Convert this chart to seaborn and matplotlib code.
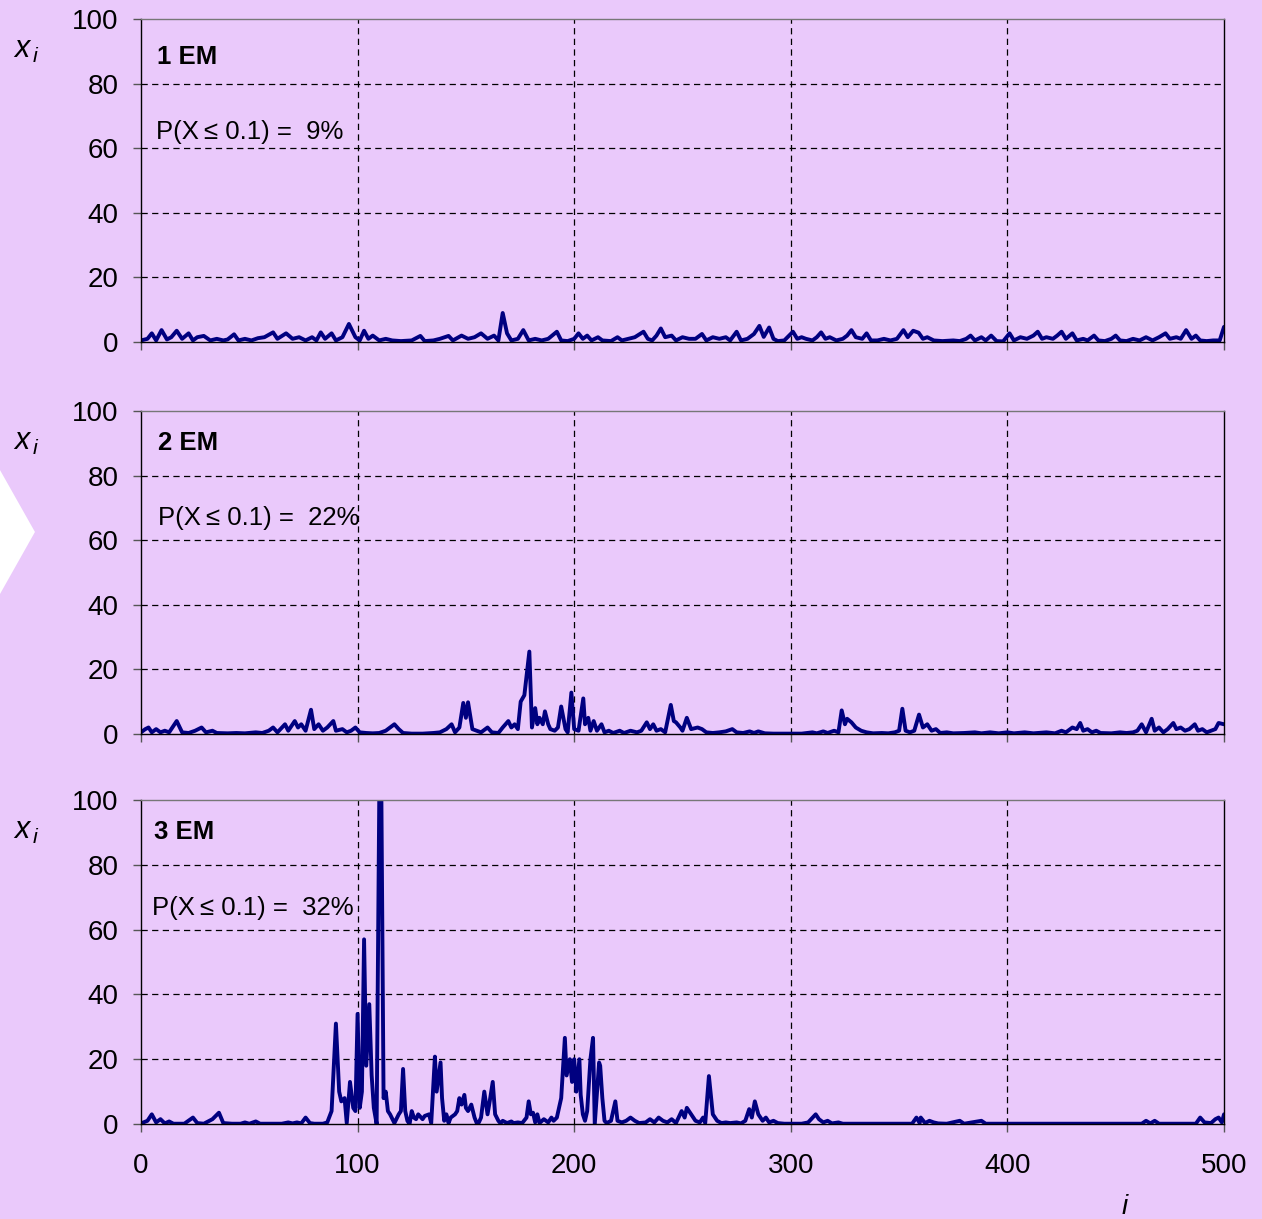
import matplotlib
matplotlib.use("Agg")
import matplotlib.pyplot as plt
import seaborn as sns
import pandas as pd
from matplotlib.patches import Polygon

# ---------------- data ----------------
em1_i = [0, 3, 5, 7, 9.5, 12, 14, 16.5, 19, 22, 24, 26, 29, 32, 35, 38, 40, 43, 45, 48, 51, 54, 57, 61, 63, 67, 70, 73, 76, 79,
         81, 83, 85, 88, 90, 93, 96, 99, 101, 103, 105, 107, 110, 113, 116, 120, 125, 129, 131, 135, 138, 142, 144, 148, 151,
         154, 157, 160, 163, 165, 167, 169, 171, 174, 176.5, 179, 182, 185, 188, 192, 194, 197, 200, 202, 204, 206, 208, 211,
         213, 217, 220, 222, 225, 228, 232, 234, 236, 238, 240, 242, 245, 247, 250, 253, 256, 259, 261, 264, 267, 270, 272,
         275, 277, 280, 283, 285.5, 287.5, 290, 292, 294, 297, 301, 303, 305, 307, 310, 312, 314, 316, 318, 321, 324, 326,
         328, 330, 333, 335, 337, 340, 343, 346, 349, 352, 354, 356.5, 359, 361, 363, 366, 370, 375, 378, 381, 383, 385, 388,
         390, 392.5, 395, 398, 401, 403, 406, 409, 412, 414, 416, 418, 421, 423, 425, 427, 430, 432, 435, 437, 440, 442, 445,
         448, 450, 452, 455, 458, 461, 464, 467, 470, 473, 475, 478, 480, 482.5, 485, 487, 489, 492, 495, 498, 500]
em1_x = [0.5, 1, 2.7, 0.5, 3.7, 0.8, 1.5, 3.5, 1, 2.7, 0.5, 1.5, 1.9, 0.5, 1, 0.5, 0.8, 2.4, 0.5, 1, 0.5, 1.2, 1.5, 3, 1, 2.7, 1, 1.5, 0.5, 1.5,
         0.5, 3, 1, 2.7, 0.5, 1.5, 5.6, 1.5, 0.5, 3.5, 1, 2, 0.5, 1, 0.5, 0.3, 0.5, 1.9, 0.3, 0.5, 1, 1.9, 0.5, 2, 1,
         1.5, 2.7, 1, 2, 0.5, 9, 2.7, 0.5, 1, 3.7, 0.5, 1, 0.5, 1, 3.2, 0.5, 0.3, 1, 2.7, 1, 2, 0.5, 1.5,
         0.5, 0.3, 1.5, 0.5, 1, 1.5, 3.2, 1, 0.5, 2, 4.2, 1.5, 2, 0.5, 1.5, 1, 1, 2.5, 0.5, 1.5, 1, 1.5, 0.5,
         3.2, 0.5, 1, 2.5, 5, 1.6, 4.5, 1, 0.3, 0.5, 3.2, 1, 1.5, 1, 0.5, 1.5, 3, 1, 1.5, 0.5, 1, 2,
         3.7, 1.5, 1, 2.7, 0.5, 0.5, 1, 0.5, 1, 3.7, 1.5, 3.5, 2.9, 1, 1.5, 0.5, 0.3, 0.5, 0.3, 1, 2, 0.5, 1.5,
         0.5, 2, 0.3, 0.2, 2.7, 0.5, 1.5, 1, 2, 3.2, 1, 1.5, 1, 2, 3.2, 1, 2.7, 0.5, 1, 0.5, 2, 0.5, 0.3,
         1, 2, 0.5, 0.3, 1, 0.5, 1.5, 0.5, 1.5, 2.7, 1, 1.5, 1, 3.7, 1, 2, 0.5, 0.3, 0.5, 0.5, 4.7]

em2_i = [0, 2, 3.5, 5, 7, 9, 11, 13, 16.5, 19, 22, 25, 28, 30, 33, 35, 40, 44, 48, 53, 56, 59, 61, 63, 66.5, 68, 71, 72.5, 74,
         76, 78.5, 80, 82, 84, 86, 88.8, 90, 93, 95, 97, 99, 101, 104, 107, 110, 113, 115, 117, 119, 121, 125, 130, 135, 138,
         141, 143.4, 145, 147, 148.8, 150, 151, 153, 155, 157, 160, 162, 165, 167, 169.6, 171, 172.5, 174, 175.3, 177, 179.3,
         180.5, 182, 183, 184, 185.5, 186.5, 188, 189, 191, 192.5, 194, 196, 197, 198.7, 200, 202, 204.2, 205, 206.5, 207.5,
         209, 210.5, 212.6, 214, 216, 218, 221, 223, 226, 229, 231, 233.5, 235, 236.5, 238, 240, 242, 244.6, 246, 247, 249,
         250, 252, 254, 257, 259, 261, 264, 267, 270, 273, 275, 278, 281, 283, 285, 288, 292, 300, 305, 310, 312, 315, 317,
         320, 322, 323.5, 325, 326, 328, 330, 332.5, 335, 338, 342, 345, 348, 350, 351.5, 353, 355, 357, 359.2, 361, 363, 365,
         367, 369, 372, 375, 380, 385, 388, 392, 396, 400, 403, 408, 412, 418, 422, 425, 427, 430, 432, 433.6, 435, 437, 439,
         441, 443, 448, 452, 455, 458, 460, 462, 464, 466.6, 468, 470, 472, 474, 476.6, 478, 480, 482, 484, 486.5, 488, 490,
         492, 494, 496, 497.5, 500]
em2_x = [0.5, 1.5, 2, 0.5, 1.5, 0.5, 1, 0.5, 4, 0.5, 0.3, 1, 2, 0.5, 1, 0.3, 0.2, 0.3, 0.2, 0.5, 0.3, 1, 2, 0.5, 3, 1, 4, 2, 3,
         1, 7.5, 1.5, 3, 1, 2, 4, 1, 1.5, 0.5, 1, 2, 0.5, 0.3, 0.2, 0.3, 1, 2, 3, 1.5, 0.3, 0.1, 0.1, 0.3, 0.5,
         1.5, 3, 0.5, 2, 9.6, 5, 9.8, 1.5, 1, 0.5, 2, 0.5, 0.3, 2, 4, 2, 3, 1.5, 10, 12, 25.5,
         2, 8, 3, 5, 3, 7, 3, 1.5, 1, 2, 8.5, 1.5, 0.5, 12.8, 1.5, 1, 11, 3, 5, 1,
         4, 1, 3, 0.5, 1, 0.3, 1, 0.3, 1, 0.5, 1, 3.6, 1.5, 3, 1, 1.5, 0.5, 9, 4, 3.6, 2,
         1, 5, 1.5, 2, 1.5, 0.5, 0.3, 0.5, 0.8, 1.5, 0.5, 0.3, 0.8, 0.3, 0.8, 0.2, 0.1, 0.1, 0.1, 0.5, 0.2, 0.8, 0.3,
         1, 0.5, 7.3, 3, 4.7, 3.6, 2, 1, 0.5, 0.2, 0.3, 0.2, 0.5, 1, 7.8, 1, 0.5, 1, 6, 2, 3, 1,
         1.5, 0.3, 0.5, 0.2, 0.3, 0.5, 0.2, 0.5, 0.2, 0.5, 0.2, 0.5, 0.2, 0.5, 0.2, 1, 0.5, 2, 1.5, 3.4, 1, 1.5, 0.5,
         1, 0.3, 0.2, 0.5, 0.3, 0.5, 1, 3, 0.5, 4.7, 1, 2, 0.5, 1.5, 3.4, 1.5, 2, 1, 1.5, 3, 1, 1.5,
         0.5, 1, 1.5, 3.4, 3]

em3_i = [0, 3, 5, 7, 9, 11, 13, 15, 20, 24, 26, 29, 33, 36, 38, 42, 46, 48, 50, 53, 55, 60, 65, 68, 70, 72, 74, 76, 78, 80,
         84, 86, 88, 90, 91.5, 92.5, 94, 95, 96.5, 98, 99, 100, 101, 102, 103, 104, 105.4, 106.5, 107.5, 108.8, 110, 111,
         112, 113, 114, 115, 117, 119, 120, 121, 122, 123, 124, 125, 126, 127, 128, 130, 131, 133, 134, 135.7, 136.5, 138.3,
         139, 140, 141, 142, 143, 145, 146, 147, 148, 149.3, 150, 151, 152.5, 154, 155, 156, 157, 158.5, 160, 161, 162.4,
         163.5, 165, 166, 167, 169, 171, 172, 174, 176, 178, 179, 180, 181, 182, 183, 184, 186, 188, 189.5, 190.5, 192, 194,
         195.7, 196.5, 198, 199, 200, 201, 202.4, 203, 204, 205, 206, 207.5, 208.7, 209.5, 211.5, 212, 213, 214, 215, 217,
         219, 220, 222, 224, 226, 228, 230, 233, 235, 237, 239, 241, 243, 245, 247, 249.6, 251, 252, 254, 256, 258, 259.5,
         260.5, 262.2, 264, 266, 268, 270, 272, 275, 277, 279, 280.8, 282, 283.4, 285, 287, 288.5, 290, 292, 294, 297, 305,
         308, 311.5, 313, 315, 317, 319, 322, 324, 330, 356, 358, 359.5, 360, 362, 364, 366, 368, 372, 378, 380, 388, 390,
         462, 464, 466, 468, 470, 487, 489, 491, 494, 496, 497.5, 499, 500]
em3_x = [0.2, 1, 3, 0.5, 1.5, 0.2, 0.8, 0.1, 0.1, 2, 0.3, 0.1, 1.5, 3.5, 0.3, 0.1, 0.1, 0.5, 0.1, 0.8, 0.1, 0.1, 0.1, 0.5, 0.2, 0.5, 0.2, 2, 0.3, 0.1,
         0.1, 0.5, 4, 31, 10, 7, 8, 0.3, 13, 5, 4, 34, 5, 10, 57, 18, 37, 15, 5, 0, 100, 100,
         8, 10, 4, 3, 0.3, 3, 4, 17, 4, 1, 0, 4, 2, 1.5, 3, 1.5, 2.5, 3, 0.3, 20.8, 10, 19,
         8, 1, 3, 0.3, 2, 3, 4, 8, 6, 9, 5, 4, 6, 2, 0.3, 0.5, 2, 10, 3, 7, 13,
         3, 1, 0.2, 1, 0.3, 0.8, 0.3, 0.5, 0.3, 2, 7, 3, 3.5, 0.5, 3, 0.3, 1.5, 0.5, 2, 1, 2, 8,
         26.6, 15, 20, 13, 20, 10, 20, 9, 3, 1, 4, 20, 26.6, 0, 19, 18, 8, 1, 0.3, 1,
         7, 1, 0.5, 1, 2, 1, 0.3, 0.5, 1.5, 0.5, 2, 1, 0.5, 1.5, 0.3, 4, 2, 5, 3, 1, 0.5, 2,
         0.3, 14.8, 3, 1, 0.3, 0.5, 0.3, 0.5, 0.2, 1, 4.6, 2, 7, 3, 1, 2, 0.5, 1, 0.3, 0.1, 0.1,
         0.5, 3, 1.5, 0.5, 1, 0.2, 0.5, 0.1, 0.1, 0.1, 2, 0.3, 2, 0.3, 1, 0.5, 0.2, 0.1, 1, 0.1, 1, 0.1,
         0.1, 1, 0.2, 1, 0.1, 0.1, 2, 0.5, 0.3, 1.5, 2, 0.5, 3]

panel_titles = ["1 EM", "2 EM", "3 EM"]
panel_probs = ["P(X\u2009\u2264 0.1) =  9%", "P(X\u2009\u2264 0.1) =  22%", "P(X\u2009\u2264 0.1) =  32%"]
x_ticks = [0, 100, 200, 300, 400, 500]
y_ticks = [0, 20, 40, 60, 80, 100]

# ---------------- style ----------------
BG = "#EAC9FB"
NAVY = "#000080"
sns.set_theme(style="white")
plt.rcParams["font.family"] = ["Liberation Sans", "DejaVu Sans"]
plt.rcParams["mathtext.fontset"] = "custom"
plt.rcParams["mathtext.it"] = "Liberation Sans:italic"
plt.rcParams["mathtext.rm"] = "Liberation Sans"

fig = plt.figure(figsize=(12.62, 12.19), dpi=100, facecolor=BG)

# white chevron on the left edge
fig.patches.append(Polygon([[0, 0.6144], [0.0277, 0.5636], [0, 0.5127]], closed=True,
                           transform=fig.transFigure, facecolor="white", edgecolor="none"))

series = [(em1_i, em1_x), (em2_i, em2_x), (em3_i, em3_x)]
bottoms = [0.7194, 0.3979, 0.0779]
heights = [0.2650, 0.2650, 0.2658]
title_y = [0.882, 0.901, 0.901]
prob_y = [0.650, 0.669, 0.667]
title_x = [0.015, 0.016, 0.012]
prob_x = [0.014, 0.016, 0.010]

for k in range(3):
    ax = fig.add_axes([0.1117, bottoms[k], 0.8582, heights[k]])
    ax.set_facecolor(BG)
    df = pd.DataFrame({"i": series[k][0], "x": series[k][1]})
    sns.lineplot(data=df, x="i", y="x", ax=ax, color=NAVY, linewidth=2.8,
                 estimator=None, sort=False)
    ax.set_xlim(0, 500)
    ax.set_ylim(0, 100)
    ax.set_xticks(x_ticks)
    ax.set_yticks(y_ticks)
    ax.set_xlabel("")
    ax.set_ylabel("")
    for v in x_ticks[1:-1]:
        ax.axvline(v, color="black", linewidth=0.9, linestyle=(0, (5, 3.5)), zorder=1)
    for v in y_ticks[1:-1]:
        ax.axhline(v, color="black", linewidth=0.9, linestyle=(0, (5, 3.5)), zorder=1)
    for s in ["left", "bottom", "right"]:
        ax.spines[s].set_color("black")
        ax.spines[s].set_linewidth(1.0)
    ax.spines["top"].set_color("#777777")
    ax.spines["top"].set_linewidth(1.0)
    ax.tick_params(axis="both", direction="out", length=6, width=1.0, color="#555555",
                   labelsize=20, labelcolor="black", bottom=True, left=True)
    ax.tick_params(axis="y", pad=10)
    ax.tick_params(axis="x", pad=15)
    if k < 2:
        ax.tick_params(axis="x", labelbottom=False)
    ax.text(title_x[k], title_y[k], panel_titles[k], transform=ax.transAxes,
            fontsize=18.5, fontweight="bold", ha="left", va="center", color="black")
    ax.text(prob_x[k], prob_y[k], panel_probs[k], transform=ax.transAxes,
            fontsize=18.5, ha="left", va="center", color="black",
            family=["Liberation Sans", "DejaVu Sans"])
    ax.text(-0.118, 0.905, r"$x_{\,i}$", transform=ax.transAxes,
            fontsize=22, ha="left", va="center", color="black")

fig.text(0.889, 0.004, "i", fontsize=20, style="italic", ha="left", va="baseline", color="black")

fig.savefig("out.png", dpi=100, facecolor=BG)
